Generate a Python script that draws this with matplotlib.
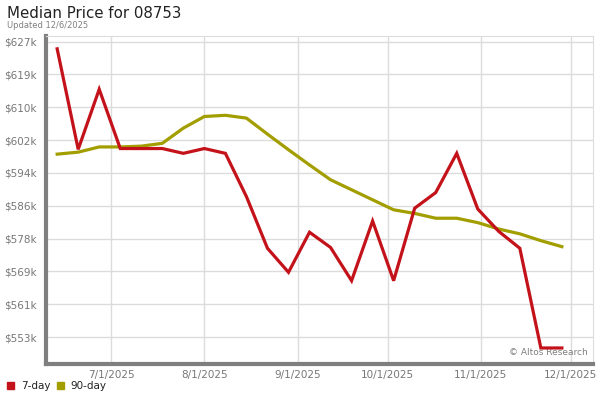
import matplotlib
matplotlib.use('Agg')
import matplotlib.pyplot as plt
import matplotlib.dates as mdates
import numpy as np
import pandas as pd

dates = ['2025-06-13', '2025-06-20', '2025-06-27', '2025-07-04', '2025-07-11',
         '2025-07-18', '2025-07-25', '2025-08-01', '2025-08-08', '2025-08-15',
         '2025-08-22', '2025-08-29', '2025-09-05', '2025-09-12', '2025-09-19',
         '2025-09-26', '2025-10-03', '2025-10-10', '2025-10-17', '2025-10-24',
         '2025-10-31', '2025-11-07', '2025-11-14', '2025-11-21', '2025-11-28']

# median price, thousands of dollars
day7 = [625.0, 599.9, 614.9, 600.1, 600.1, 600.1, 598.9, 600.1, 598.9, 588.1,
        575.2, 569.2, 579.2, 575.4, 567.1, 582.0, 567.1, 585.2, 589.1, 598.9,
        585.0, 579.4, 575.2, 550.3, 550.3]
day90 = [598.7, 599.2, 600.5, 600.5, 600.7, 601.4, 605.2, 608.1, 608.4, 607.7,
         603.7, 599.8, 596.0, 592.3, 589.8, 587.3, 584.8, 583.9, 582.7, 582.7,
         581.6, 580.0, 578.8, 577.1, 575.6]

y_ticks = [553.0, 561.2, 569.4, 577.6, 585.8, 594.0, 602.2, 610.4, 618.6, 626.8]
y_labels = ['$553k', '$561k', '$569k', '$578k', '$586k', '$594k', '$602k', '$610k', '$619k', '$627k']
x_ticks = ['2025-07-01', '2025-08-01', '2025-09-01', '2025-10-01', '2025-11-01', '2025-12-01']
x_labels = ['7/1/2025', '8/1/2025', '9/1/2025', '10/1/2025', '11/1/2025', '12/1/2025']

red = '#c4121a'
olive = '#a39e00'

x = pd.to_datetime(dates)

fig = plt.figure(figsize=(6, 4), dpi=100)
ax = fig.add_axes([0.0767, 0.09, 0.9113, 0.821])

ax.plot(x, day90, color=olive, linewidth=2.3, solid_joinstyle='miter', zorder=3)
ax.plot(x, day7, color=red, linewidth=2.3, solid_joinstyle='miter', zorder=4)

ax.set_xlim(pd.Timestamp('2025-06-09 07:00'), pd.Timestamp('2025-12-08 07:00'))
ax.set_ylim(546.3, 628.3)

ax.set_yticks(y_ticks)
ax.set_yticklabels(y_labels)
ax.set_xticks(pd.to_datetime(x_ticks))
ax.set_xticklabels(x_labels)

ax.grid(True, color='#dcdcdc', linewidth=1)
ax.set_axisbelow(True)
ax.tick_params(length=0, labelsize=7.5, labelcolor='#777777')
ax.tick_params(axis='y', pad=7)
ax.tick_params(axis='x', pad=4)

ax.spines['top'].set_color('#dcdcdc')
ax.spines['right'].set_color('#dcdcdc')
ax.spines['left'].set_color('#7f7f7f')
ax.spines['bottom'].set_color('#7f7f7f')
ax.spines['left'].set_linewidth(3)
ax.spines['bottom'].set_linewidth(3)

ax.text(0.99, 0.02, '\u00a9 Altos Research', transform=ax.transAxes,
        ha='right', va='bottom', fontsize=6.5, color='#808080')

fig.text(0.012, 0.965, 'Median Price for 08753', fontsize=10.8, color='#222222', va='center')
fig.text(0.012, 0.937, 'Updated 12/6/2025', fontsize=6, color='#808080', va='center')

# legend
fig.patches.append(plt.Rectangle((0.012, 0.028), 0.011, 0.017, color=red, transform=fig.transFigure, figure=fig))
fig.text(0.035, 0.036, '7-day', fontsize=7.5, color='#222222', va='center')
fig.patches.append(plt.Rectangle((0.095, 0.028), 0.011, 0.017, color=olive, transform=fig.transFigure, figure=fig))
fig.text(0.118, 0.036, '90-day', fontsize=7.5, color='#222222', va='center')

fig.savefig('out.png', dpi=100)
